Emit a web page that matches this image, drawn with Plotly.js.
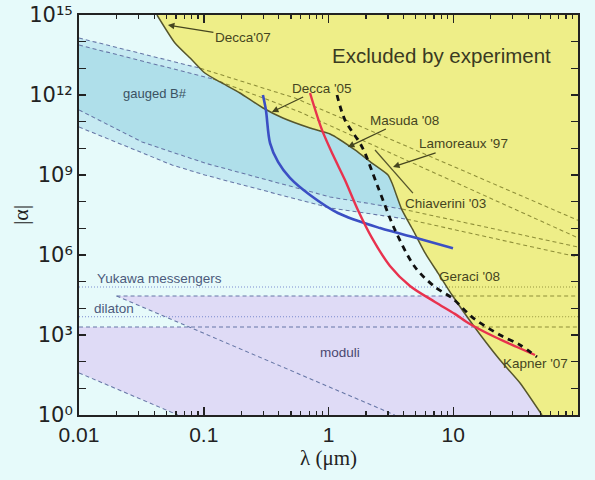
<!DOCTYPE html>
<html><head><meta charset="utf-8">
<script src="https://cdn.plot.ly/plotly-3.0.1.min.js"></script>
<style>html,body{margin:0;padding:0;background:#e6fafa;}</style>
</head><body>
<div id="chart" style="width:595px;height:480px;"></div>
<script>
// ---------------- data ----------------
const xTickVals = [0.01, 0.1, 1, 10, 100];
const xTickText = ['0.01', '0.1', '1', '10', '100'];
const xMinorVals = [0.02,0.03,0.04,0.05,0.06,0.07,0.08,0.09,
                    0.2,0.3,0.4,0.5,0.6,0.7,0.8,0.9,
                    2,3,4,5,6,7,8,9,
                    20,30,40,50,60,70,80,90];
const yTickVals = [1, 1e3, 1e6, 1e9, 1e12, 1e15];
const yTickText = ['10⁰', '10³', '10⁶', '10⁹', '10¹²', '10¹⁵'];
const yMinorVals = [1e1,1e2,1e4,1e5,1e7,1e8,1e10,1e11,1e13,1e14];

// excluded-by-experiment boundary
const excludedX = [0.0422,0.0588,0.0806,0.102,0.135,0.195,0.299,0.431,0.711,1.03,1.63,2.23,3.0,3.23,3.88,4.75,5.94,7.55,9.78,14.4,23.7,34.3,51.4];
const excludedY = [1e15,8.9e13,2.05e13,6.7e12,3.08e12,1.19e12,3.25e11,1.37e11,5.78e10,3.45e10,8.7e9,2.8e9,1e9,5e8,4.9e7,8.7e6,1.19e6,2.1e5,3.16e4,2.37e3,115,15.8,1];

// gauged B# band edges (split index = where the line enters the excluded region)
const gOuterUpX = [0.01, 0.094, 0.539, 100];
const gOuterUpY = [1.37e14, 1.0e13, 7.7e11, 2.0e7];
const gOuterUpSplit = 1;
const gInnerUpX = [0.01, 0.1186, 0.59, 100];
const gInnerUpY = [7.5e13, 4.0e12, 2.3e11, 4.4e6];
const gInnerUpSplit = 1;
const gInnerLoX = [0.01, 0.032, 0.102, 1.03, 3.88, 100];
const gInnerLoY = [2.75e11, 1.74e10, 2.8e9, 1.5e8, 5.3e7, 2e6];
const gInnerLoSplit = 4;
const gOuterLoX = [0.01, 0.0557, 0.102, 1.03, 4.26, 100];
const gOuterLoY = [6.3e10, 2.37e9, 1e9, 5.8e7, 2.2e7, 8.4e5];
const gOuterLoSplit = 4;

// moduli region and lines
const moduliFillX = [0.01, 0.01, 0.078, 0.02, 100, 100, 0.062];
const moduliFillY = [38, 2e3, 2e3, 2.9e4, 2.9e4, 1, 1];
const moduliTopX = [0.02, 9.8, 100];
const moduliTopY = [2.9e4, 2.9e4, 2.9e4];
const moduliMidX = [0.01, 14.9, 100];
const moduliMidY = [2e3, 2e3, 2e3];
const moduliDiagX = [0.02, 3.4];
const moduliDiagY = [2.9e4, 1];
const moduliLowDiagX = [0.01, 0.062];
const moduliLowDiagY = [38, 1];
// dotted theory lines
const yukawaX = [0.01, 8.75, 100];
const yukawaY = [6.3e4, 6.3e4, 6.3e4];
const dilatonX = [0.01, 13.4, 100];
const dilatonY = [4.8e3, 4.8e3, 4.8e3];

// Lamoreaux '97 segment
const lamoreauxX = [2.36, 4.75];
const lamoreauxY = [8.7e9, 2.1e8];

// projected sensitivity curves
const blueX = [0.298,0.315,0.34,0.394,0.491,0.711,1.19,2.59,5.41,9.95];
const blueY = [1e12,2.75e11,1.58e10,3.1e9,7.8e8,1.78e8,3.76e7,1.02e7,4e6,1.8e6];
const redX = [0.711,0.887,1.087,1.355,1.72,2.23,3.11,4.5,7.14,10.3,13.6,21.6,32.4,45.2];
const redY = [1.19e12,4.9e10,5.6e9,6.5e8,4.9e7,4.4e6,3.9e5,6.9e4,1.74e4,6.2e3,2.6e3,841,355,178];
const blackX = [1.17,1.355,1.86,2.49,3.41,4.93,7.14,9.78,14.4,23.7,34.3,46.9];
const blackY = [1e12,1.15e11,1.12e10,3.55e8,8.7e6,3.55e5,6.3e4,2.45e4,4.4e3,1e3,422,150];

// ---------------- drawing ----------------
const L = Math.log10;
const DASH_BLUE = '#6676a6', DASH_OLIVE = '#8e8e38', DOT_BLUE = '#7b8bd0', DOT_OLIVE = '#96963e';
const traces = [];
function fill(xs, ys, color) {
  traces.push({x: xs, y: ys, mode: 'lines', fill: 'toself', fillcolor: color,
               line: {width: 0}, hoverinfo: 'skip'});
}
function line(xs, ys, color, width, dash, smooth) {
  const ln = {color: color, width: width, dash: dash};
  if (smooth) { ln.shape = 'spline'; ln.smoothing = smooth; }
  traces.push({x: xs, y: ys, mode: 'lines', line: ln, hoverinfo: 'skip'});
}
function splitLine(xs, ys, k, c1, c2, dash) {
  line(xs.slice(0, k + 1), ys.slice(0, k + 1), c1, 1.05, dash);
  line(xs.slice(k), ys.slice(k), c2, 1.05, dash);
}

// fills
fill(gOuterUpX.concat(gOuterLoX.slice().reverse()), gOuterUpY.concat(gOuterLoY.slice().reverse()), '#c6eaf2');
fill(gInnerUpX.concat(gInnerLoX.slice().reverse()), gInnerUpY.concat(gInnerLoY.slice().reverse()), '#afdfea');
fill(moduliFillX, moduliFillY, '#dfdbf6');
fill(excludedX.concat([100, 100]), excludedY.concat([1, 1e15]), '#eeee88');

// dashed theory lines
const D = '4px,3px';
splitLine(gOuterUpX, gOuterUpY, gOuterUpSplit, DASH_BLUE, DASH_OLIVE, D);
splitLine(gInnerUpX, gInnerUpY, gInnerUpSplit, DASH_BLUE, DASH_OLIVE, D);
splitLine(gInnerLoX, gInnerLoY, gInnerLoSplit, DASH_BLUE, DASH_OLIVE, D);
splitLine(gOuterLoX, gOuterLoY, gOuterLoSplit, DASH_BLUE, DASH_OLIVE, D);
splitLine(moduliTopX, moduliTopY, 1, DASH_BLUE, DASH_OLIVE, D);
splitLine(moduliMidX, moduliMidY, 1, DASH_BLUE, DASH_OLIVE, D);
line(moduliDiagX, moduliDiagY, DASH_BLUE, 1.05, D);
line(moduliLowDiagX, moduliLowDiagY, DASH_BLUE, 1.05, D);
splitLine(yukawaX, yukawaY, 1, DOT_BLUE, DOT_OLIVE, '1px,2px');
splitLine(dilatonX, dilatonY, 1, DOT_BLUE, DOT_OLIVE, '1px,2px');

// boundary + experiment lines
line(excludedX, excludedY, '#56562c', 1.5, 'solid', 0.5);
line(lamoreauxX, lamoreauxY, '#56562c', 1.3, 'solid');

// curves
line(blueX, blueY, '#3b4fc4', 2.6, 'solid', 0.9);
line(redX, redY, '#e8324e', 2.4, 'solid', 0.9);
line(blackX, blackY, '#111111', 2.8, '6px,5px', 0.9);

const SANS = 'Liberation Sans, Arial, sans-serif';
const labelFont = {family: SANS, size: 13.5, color: '#45451f'};
function txt(text, x, y, font, anchor) {
  return {text: text, x: L(x), y: L(y), xref: 'x', yref: 'y', showarrow: false,
          xanchor: anchor || 'center', yanchor: 'middle', font: font};
}
// labelled arrow: head at (x, y), label offset by (ax, ay) pixels
function arrowLabel(text, x, y, ax, ay) {
  return {text: text, x: L(x), y: L(y), xref: 'x', yref: 'y', showarrow: true, ax: ax, ay: ay,
          arrowhead: 2, arrowsize: 1, arrowwidth: 1.3, arrowcolor: '#45451f', standoff: 0,
          font: labelFont};
}
const annotations = [
  txt('Excluded by experiment', 7.98, 3.16e13, {family: SANS, size: 20.5, color: '#3a3a22'}),
  txt('gauged B#', 0.0406, 1.1e12, {family: SANS, size: 13, color: '#3b5262'}),
  arrowLabel("Decca'07", 0.0516, 4.2e14, 75, 12),
  arrowLabel("Decca '05", 0.352, 2.3e11, 50, -24),
  arrowLabel("Masuda '08", 1.43, 1.12e10, 57, -27),
  arrowLabel("Lamoreaux '97", 3.29, 2e9, 70, -23),
  txt("Chiaverini '03", 8.6, 8.9e7, labelFont),
  txt("Geraci '08", 13.6, 1.62e5, labelFont),
  txt("Kapner '07", 46, 89, labelFont),
  txt('Yukawa messengers', 0.01343, 1.26e5, {family: SANS, size: 13.5, color: '#4c5a7c'}, 'left'),
  txt('dilaton', 0.0127, 1.02e4, {family: SANS, size: 13.5, color: '#4c5a7c'}, 'left'),
  txt('moduli', 1.236, 229, {family: SANS, size: 13.5, color: '#4a4870'}),
  {text: '|α|', xref: 'paper', yref: 'paper', x: -0.118, y: 0.5, xanchor: 'center', yanchor: 'middle',
   textangle: -90, showarrow: false,
   font: {family: 'Liberation Serif, Times New Roman, serif', size: 22, color: '#222'}}
];

const axisCommon = {
  type: 'log', showgrid: false, zeroline: false, showline: true, linecolor: '#222', linewidth: 2,
  mirror: 'allticks', ticks: 'inside', tickcolor: '#222', tickwidth: 1.5,
  tickfont: {family: SANS, size: 21, color: '#222'}
};
const layout = {
  width: 595, height: 480,
  margin: {l: 79, r: 17, t: 15, b: 65},
  paper_bgcolor: '#e6fafa', plot_bgcolor: '#e6fafa',
  showlegend: false,
  xaxis: Object.assign({}, axisCommon, {
    range: [-2, 2], tickvals: xTickVals, ticktext: xTickText, ticklen: 8,
    minor: {tickvals: xMinorVals, ticks: 'inside', ticklen: 4, tickcolor: '#222', tickwidth: 1.2, showgrid: false},
    title: {text: 'λ (μm)', font: {family: 'Liberation Serif, Times New Roman, serif', size: 21, color: '#222'}, standoff: 4}
  }),
  yaxis: Object.assign({}, axisCommon, {
    range: [0, 15], tickvals: yTickVals, ticktext: yTickText, ticklen: 7,
    tickfont: {family: 'DejaVu Sans, Liberation Sans, sans-serif', size: 21, color: '#222'},
    minor: {tickvals: yMinorVals, ticks: 'inside', ticklen: 7, tickcolor: '#222', tickwidth: 1.5, showgrid: false}
  }),
  annotations: annotations
};
Plotly.newPlot('chart', traces, layout, {staticPlot: true, displayModeBar: false});
</script>
</body></html>
